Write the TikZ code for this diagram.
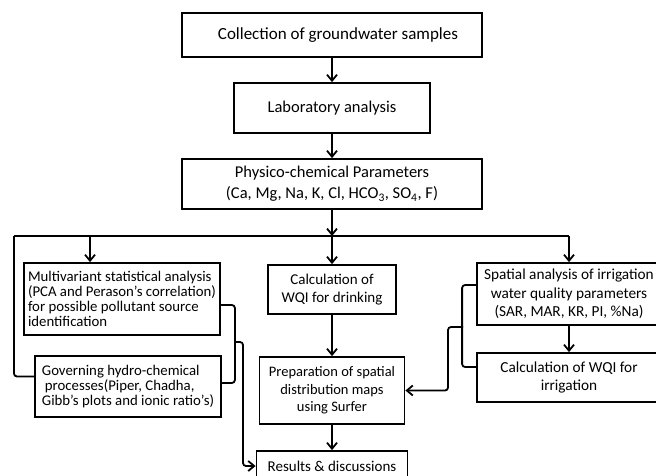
\documentclass[tikz,border=0pt]{standalone}
\usepackage{fontspec}
\setmainfont{Carlito}
\usetikzlibrary{arrows.meta}

\tikzset{
  box/.style={draw, line width=1.8pt, inner sep=2pt, align=center},
  arr/.style={line width=1.8pt, -{Straight Barb[length=6pt,width=10pt]}},
  link/.style={line width=1.8pt, rounded corners=3pt}
}
\newcommand{\fs}[2]{\fontsize{#1}{#2}\selectfont}

\begin{document}
\begin{tikzpicture}[x=1pt,y=-1pt]
      \clip (0,0) rectangle (656,476);
      \fill[white] (0,0) rectangle (656,476);

      % Main column
      \node[box, minimum width=300pt, minimum height=44pt, font=\fs{17}{20}] (collect) at (332,35) {\hspace{12pt}Collection of groundwater samples};
      \node[box, minimum width=196pt, minimum height=50pt, font=\fs{16.5}{20}] (lab) at (332,108) {Laboratory analysis};
      \node[box, minimum width=300pt, minimum height=50pt, font=\fs{16.5}{21}] (phys) at (332,184) {Physico-chemical Parameters\\(Ca, Mg, Na, K, Cl, HCO\textsubscript{3}, SO\textsubscript{4}, F)};
      \node[box, minimum width=128pt, minimum height=49pt, font=\fs{15}{18}] (wqid) at (332,289.5) {Calculation of\\WQI for drinking};
      \node[box, minimum width=145pt, minimum height=67pt, font=\fs{14.5}{17.5}] (prep) at (332,390.5) {Preparation of spatial\\distribution maps\\using Surfer};
      \node[box, minimum width=151pt, minimum height=30pt, font=\fs{15}{16}] (results) at (332,466) {Results \& discussions};

      % Left column
      \node[box, align=left, minimum width=196pt, minimum height=72pt, font=\fs{14.8}{15}] (multi) at (122,299) {Multivariant statistical analysis\\(PCA and Perason’s correlation)\\for possible pollutant source\\identification};
      \node[box, align=left, minimum width=186pt, minimum height=61pt, font=\fs{14.8}{15}] (gov) at (128,386.5) {Governing hydro-chemical\\\hspace{3pt}processes(Piper, Chadha,\\Gibb’s plots and ionic ratio’s)};

      % Right column
      \node[box, minimum width=184pt, minimum height=62pt, font=\fs{15.3}{18.5}] (spatial) at (569,294) {Spatial analysis of irrigation\\water quality parameters\\(SAR, MAR, KR, PI, \%Na)};
      \node[box, minimum width=184pt, minimum height=49pt, font=\fs{15.3}{18}] (irr) at (569,377.5) {Calculation of WQI for\\irrigation};

      % Split below the parameters
      \coordinate (split) at (332,236);
      \coordinate (farL) at (14,236);
      \coordinate (farR) at (569,236);
      \coordinate (mtop) at (90,236);
      \draw[arr] (collect) -- (lab);
      \draw[arr] (lab) -- (phys);
      \draw[arr] (phys) -- (split);
      \draw[line width=1.8pt] (farL) -- (farR);
      \draw[arr] (mtop) -- (mtop |- multi.north);
      \draw[arr] (split) -- (wqid);
      \draw[arr] (farR) -- (spatial);
      \draw[link] (farL) |- ([yshift=10pt]gov.west);

      % Column flows
      \draw[arr] (wqid) -- (prep);
      \draw[arr] (prep) -- (results);
      \draw[arr] (spatial) -- (irr);

      % Left bracket to results
      \coordinate (lbr) at (234,342);
      \draw[link] ([yshift=-6pt]multi.east) -- ++(14,0) |- ([yshift=3.5pt]gov.east);
      \draw[arr, rounded corners=3pt] (lbr) -- ++(9,0) |- (results.west);

      % Right bracket to maps
      \coordinate (rbr) at (463,327);
      \draw[link] ([yshift=9pt]spatial.west) -- ++(-14,0) |- ([yshift=10.5pt]irr.west);
      \draw[arr, rounded corners=3pt] (rbr) -- ++(-15,0) |- (prep.east);
  \end{tikzpicture}
\end{document}
